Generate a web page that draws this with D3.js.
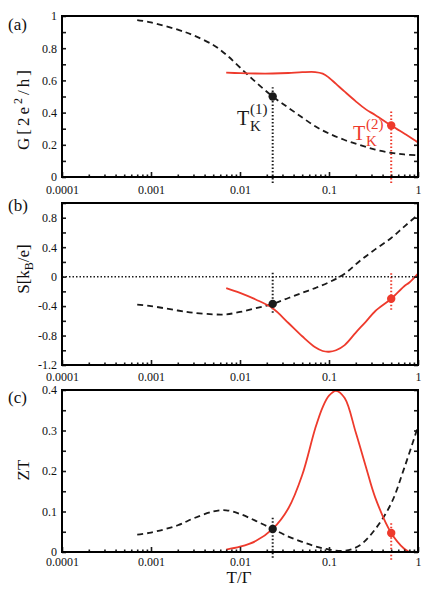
<!DOCTYPE html>
<html>
<head>
<meta charset="utf-8">
<script src="https://cdnjs.cloudflare.com/ajax/libs/d3/7.8.5/d3.min.js"></script>
<style>
    body { margin: 0; background: #fff; }
</style>
</head>
<body>
<div id="chart"></div>
<script>

// температура T/Γ для чорних (пунктирних) кривих
var tBlack  = [0.0007, 0.001, 0.002, 0.003, 0.005, 0.007, 0.01, 0.015, 0.0233, 0.035, 0.05, 0.07, 0.1, 0.15, 0.22, 0.33, 0.5, 0.7, 1.0];
var gBlack  = [0.975, 0.96, 0.915, 0.88, 0.82, 0.76, 0.68, 0.59, 0.50, 0.43, 0.37, 0.315, 0.27, 0.23, 0.20, 0.17, 0.15, 0.14, 0.135];
var sBlack  = [-0.38, -0.40, -0.46, -0.49, -0.512, -0.512, -0.48, -0.43, -0.37, -0.29, -0.22, -0.155, -0.077, 0.04, 0.21, 0.37, 0.525, 0.68, 0.84];
var ztBlack = [0.043, 0.048, 0.066, 0.083, 0.10, 0.103, 0.094, 0.077, 0.057, 0.038, 0.025, 0.014, 0.006, 0.003, 0.016, 0.056, 0.12, 0.207, 0.31];

// температура для червоних (суцільних) кривих
var tRed  = [0.007, 0.01, 0.015, 0.0233, 0.035, 0.05, 0.07, 0.085, 0.1, 0.12, 0.15, 0.2, 0.26, 0.33, 0.5, 0.7, 0.8, 1.0];
var gRed  = [0.648, 0.645, 0.643, 0.643, 0.646, 0.651, 0.652, 0.642, 0.617, 0.578, 0.53, 0.47, 0.42, 0.385, 0.32, 0.27, 0.25, 0.215];
var sRed  = [-0.155, -0.22, -0.31, -0.43, -0.63, -0.81, -0.96, -1.01, -1.02, -1.0, -0.93, -0.76, -0.61, -0.47, -0.30, -0.13, -0.08, 0.04];
var ztRed = [0.006, 0.013, 0.027, 0.057, 0.108, 0.19, 0.305, 0.358, 0.386, 0.398, 0.38, 0.295, 0.21, 0.135, 0.047, 0.008, 0, null];

// температури Кондо
var tK1 = 0.0233, tK2 = 0.5;
// вертикальні пунктири [низ, верх] у одиницях осі y кожної панелі
var tK1Span = [[-0.037, 0.557], [-0.49, 0.08], [-0.014, 0.088]];
var tK2Span = [[-0.037, 0.41], [-0.45, 0.06], [-0.019, 0.075]];

// осі
var xTicks = [0.0001, 0.001, 0.01, 0.1, 1];
var xTickLabels = ["0.0001", "0.001", "0.01", "0.1", "1"];
var gTicks = [0, 0.2, 0.4, 0.6, 0.8, 1];
var gTickLabels = ["0", "0.2", "0.4", "0.6", "0.8", "1"];
var gMinor = [0.1, 0.3, 0.5, 0.7, 0.9];
var sTicks = [-1.2, -0.8, -0.4, 0, 0.4, 0.8];
var sTickLabels = ["-1.2", "-0.8", "-0.4", "0", "0.4", "0.8"];
var sMinor = [-1.0, -0.6, -0.2, 0.2, 0.6, 1.0];
var ztTicks = [0, 0.1, 0.2, 0.3, 0.4];
var ztTickLabels = ["0", "0.1", "0.2", "0.3", "0.4"];
var ztMinor = [0.05, 0.15, 0.25, 0.35];

var red = "#ee3a2c", black = "#1a1a1a";
var serif = "'Liberation Serif', 'Times New Roman', serif";

var width = 436, height = 590;
var left = 62, right = 418;

var svg = d3.select("#chart")
    .append("svg")
    .attr("width", width)
    .attr("height", height);

var x = d3.scaleLog().domain([0.0001, 1]).range([left, right]);

// дрібні поділки по x: 2..9 у кожній декаді
var xMinor = [];
xTicks.slice(0, -1).forEach(function(d) {
    for (var k = 2; k <= 9; k++) xMinor.push(d * k);
});

var panels = [
    {label: "(a)", labelY: 30, top: 16, bottom: 177, domain: [0, 1], ticks: gTicks, tickLabels: gTickLabels, minor: gMinor,
        black: gBlack, red: gRed, xPad: 8},
    {label: "(b)", labelY: 211, top: 203, bottom: 365, domain: [-1.2, 1.0], ticks: sTicks, tickLabels: sTickLabels, minor: sMinor,
        black: sBlack, red: sRed, xPad: 7},
    {label: "(c)", labelY: 403, top: 390, bottom: 552, domain: [0, 0.4], ticks: ztTicks, tickLabels: ztTickLabels, minor: ztMinor,
        black: ztBlack, red: ztRed, xPad: 5}
];

panels.forEach(function(p, i) {
    var y = d3.scaleLinear().domain(p.domain).range([p.bottom, p.top]);
    var g = svg.append("g");

    // вертикальні пунктири біля T_K
    g.append("line")
        .attr("x1", x(tK1)).attr("x2", x(tK1))
        .attr("y1", y(tK1Span[i][0])).attr("y2", y(tK1Span[i][1]))
        .attr("stroke", black).attr("stroke-width", 2)
        .attr("stroke-dasharray", "1.5,2");
    g.append("line")
        .attr("x1", x(tK2)).attr("x2", x(tK2))
        .attr("y1", y(tK2Span[i][0])).attr("y2", y(tK2Span[i][1]))
        .attr("stroke", red).attr("stroke-width", 2)
        .attr("stroke-dasharray", "1.5,2");

    // нульова лінія на панелі (b)
    if (i === 1) {
        g.append("line")
            .attr("x1", left).attr("x2", right)
            .attr("y1", y(0)).attr("y2", y(0))
            .attr("stroke", black).attr("stroke-width", 1.5)
            .attr("stroke-dasharray", "1.5,2");
    }

    var lineBlack = d3.line()
        .x(function(d, j) { return x(tBlack[j]); })
        .y(function(d) { return y(d); })
        .curve(d3.curveCatmullRom.alpha(0.5));

    var lineRed = d3.line()
        .defined(function(d) { return d !== null; })
        .x(function(d, j) { return x(tRed[j]); })
        .y(function(d) { return y(d); })
        .curve(d3.curveCatmullRom.alpha(0.5));

    g.append("path")
        .attr("d", lineBlack(p.black))
        .attr("fill", "none")
        .attr("stroke", black)
        .attr("stroke-width", 1.8)
        .attr("stroke-dasharray", "6,4");

    g.append("path")
        .attr("d", lineRed(p.red))
        .attr("fill", "none")
        .attr("stroke", red)
        .attr("stroke-width", 1.8);

    // точки при T_K
    g.append("circle")
        .attr("cx", x(tK1))
        .attr("cy", y(p.black[tBlack.indexOf(tK1)]))
        .attr("r", 4.2)
        .attr("fill", black);
    g.append("circle")
        .attr("cx", x(tK2))
        .attr("cy", y(p.red[tRed.indexOf(tK2)]))
        .attr("r", 4.2)
        .attr("fill", red);

    // осі
    g.append("g")
        .attr("transform", "translate(" + left + ",0)")
        .call(d3.axisLeft(y).tickValues(p.ticks).tickSize(-4).tickPadding(5)
            .tickFormat(function(d, j) { return p.tickLabels[j]; }));
    g.append("g")
        .attr("transform", "translate(" + left + ",0)")
        .call(d3.axisLeft(y).tickValues(p.minor).tickSize(-4).tickFormat(""));
    g.append("g")
        .attr("transform", "translate(" + right + ",0)")
        .call(d3.axisRight(y).tickValues(p.ticks.concat(p.minor)).tickSize(-4).tickFormat(""));
    g.append("g")
        .attr("transform", "translate(0," + p.bottom + ")")
        .call(d3.axisBottom(x).tickValues(xTicks).tickSize(-5).tickPadding(p.xPad)
            .tickFormat(function(d, j) { return xTickLabels[j]; }));
    g.append("g")
        .attr("transform", "translate(0," + p.bottom + ")")
        .call(d3.axisBottom(x).tickValues(xMinor).tickSize(-2.5).tickFormat(""));

    g.selectAll(".domain").remove();
    g.selectAll(".tick line").attr("stroke", black).attr("stroke-width", 1.6);
    g.selectAll(".tick text")
        .style("font-family", serif)
        .style("font-size", "12px")
        .style("fill", "#111");

    // рамка
    g.append("rect")
        .attr("x", left).attr("y", p.top)
        .attr("width", right - left).attr("height", p.bottom - p.top)
        .attr("fill", "none")
        .attr("stroke", "#000")
        .attr("stroke-width", 2);

    g.append("text")
        .attr("x", 8).attr("y", p.labelY)
        .style("font-family", serif)
        .style("font-size", "17px")
        .style("fill", "#111")
        .text(p.label);
});

// підписи осей y
function title(tx, ty) {
    return svg.append("text")
        .attr("transform", "translate(" + tx + "," + ty + ") rotate(-90)")
        .attr("text-anchor", "middle")
        .style("font-family", serif)
        .style("font-size", "17px")
        .style("fill", "#111");
}

var gTitle = title(29, 110).attr("textLength", 80);
gTitle.append("tspan").text("G[2e");
gTitle.append("tspan").attr("dy", -7).style("font-size", "12px").text("2");
gTitle.append("tspan").attr("dy", 7).text("/h]");

var sTitle = title(29, 269);
sTitle.append("tspan").text("S[k");
sTitle.append("tspan").attr("dy", 4).style("font-size", "12px").text("B");
sTitle.append("tspan").attr("dy", -4).text("/e]");

title(29, 470).text("ZT");

svg.append("text")
    .attr("x", 239).attr("y", 583)
    .attr("text-anchor", "middle")
    .style("font-family", serif)
    .style("font-size", "17px")
    .style("fill", "#111")
    .text("T/Γ");

// підписи T_K
function tkLabel(xPos, yPos, sup, color) {
    svg.append("text")
        .attr("x", xPos).attr("y", yPos)
        .style("font-family", serif)
        .style("font-size", "20px").style("fill", color)
        .text("T");
    svg.append("text")
        .attr("x", xPos + 13).attr("y", yPos + 6)
        .style("font-family", serif)
        .style("font-size", "15px").style("fill", color)
        .text("K");
    svg.append("text")
        .attr("x", xPos + 13).attr("y", yPos - 11)
        .style("font-family", serif)
        .style("font-size", "15px").style("fill", color)
        .text(sup);
}
tkLabel(237, 125, "(1)", black);
tkLabel(353, 140, "(2)", red);

</script>
</body>
</html>
